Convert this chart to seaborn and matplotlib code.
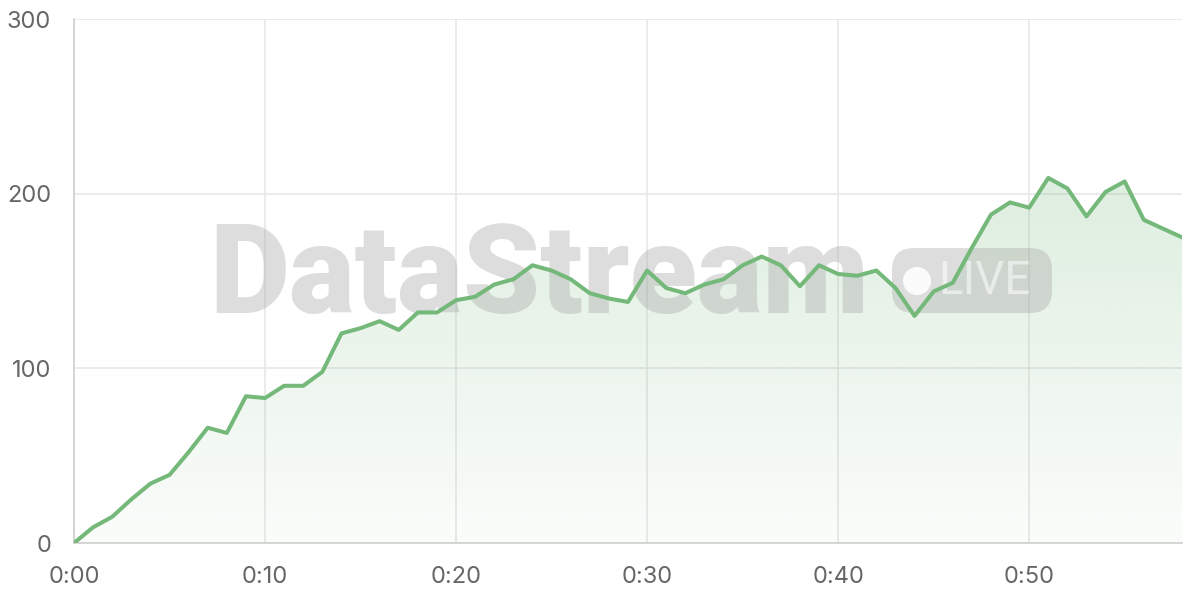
import matplotlib
matplotlib.use("Agg")
from matplotlib import pyplot as plt
from matplotlib.patches import FancyBboxPatch, Circle, Polygon
import numpy as np
import seaborn as sns
import pandas as pd

minutes = list(range(59))
viewers = [
    0, 9, 15, 25, 34, 39, 52, 66, 63, 84,
    83, 90, 90, 98, 120, 123, 127, 122, 132, 132,
    139, 141, 148, 151, 159, 156, 151, 143, 140, 138,
    156, 146, 143, 148, 151, 159, 164, 159, 147, 159,
    154, 153, 156, 146, 130, 144, 149, 169, 188, 195,
    192, 209, 203, 187, 201, 207, 185, 180, 175,
]
x_ticks = [0, 10, 20, 30, 40, 50]
x_tick_labels = ["0:00", "0:10", "0:20", "0:30", "0:40", "0:50"]
y_ticks = [0, 100, 200, 300]

GREEN = "#74b87a"
GRID = "#e6e6e6"
TEXT = "#666666"

sns.set_style("white")
plt.rcParams["font.family"] = ["Inter", "DejaVu Sans"]

df = pd.DataFrame({"minute": minutes, "viewers": viewers})

fig = plt.figure(figsize=(12, 6), dpi=100)
ax = fig.add_axes([74 / 1200, 57 / 600, (1182 - 74) / 1200, (543 - 19) / 600])

ax.set_xlim(0, 58)
ax.set_ylim(0, 300)

# gradient fill under the line, clipped to the area polygon
ymax = max(viewers)
grad = np.linspace(0.03, 0.24, 256).reshape(-1, 1)
rgba = np.zeros((256, 1, 4))
rgba[..., :3] = matplotlib.colors.to_rgb(GREEN)
rgba[..., 3] = grad
img = ax.imshow(rgba, extent=[0, 58, 0, ymax], origin="lower",
                aspect="auto", zorder=1, interpolation="bilinear")
verts = [(0, 0)] + list(zip(minutes, viewers)) + [(minutes[-1], 0)]
poly = Polygon(verts, closed=True, facecolor="none", edgecolor="none")
ax.add_patch(poly)
img.set_clip_path(poly)

# watermark
tr = fig.dpi_scale_trans
ax.text(5.39, 2.87, "DataStream", transform=tr, ha="center", va="baseline",
        fontsize=89, fontweight="heavy", family=["Roboto", "DejaVu Sans"],
        color="#a8a8a8", alpha=0.38, zorder=2, clip_on=False)
pill = FancyBboxPatch((8.92, 2.87), 1.60, 0.65, transform=tr,
                      boxstyle="round,pad=0,rounding_size=0.22",
                      facecolor="#a8a8a8", edgecolor="none",
                      alpha=0.38, zorder=2, clip_on=False)
ax.add_patch(pill)
ax.add_patch(Circle((9.17, 3.19), 0.14, transform=tr, facecolor="white",
                    edgecolor="none", alpha=0.9, zorder=2, clip_on=False))
ax.text(9.38, 3.19, "LIVE", transform=tr, ha="left", va="center",
        fontsize=33, color="white", alpha=0.55, zorder=2, clip_on=False,
        family=["Roboto", "DejaVu Sans"])

sns.lineplot(data=df, x="minute", y="viewers", ax=ax, color=GREEN,
             linewidth=2.9, zorder=3)

ax.set_xticks(x_ticks)
ax.set_xticklabels(x_tick_labels)
ax.set_yticks(y_ticks)
ax.set_xlabel("")
ax.set_ylabel("")
ax.grid(True, color=GRID, linewidth=1.1)
ax.set_axisbelow(True)
ax.tick_params(axis="both", length=11.5, width=1.1, color=GRID,
               labelcolor=TEXT, labelsize=17, pad=5)
for side in ["top", "right"]:
    ax.spines[side].set_visible(False)
for side in ["left", "bottom"]:
    ax.spines[side].set_color("#cfcfcf")
    ax.spines[side].set_linewidth(1.2)

fig.savefig("out.png", dpi=100)
plt.close(fig)
